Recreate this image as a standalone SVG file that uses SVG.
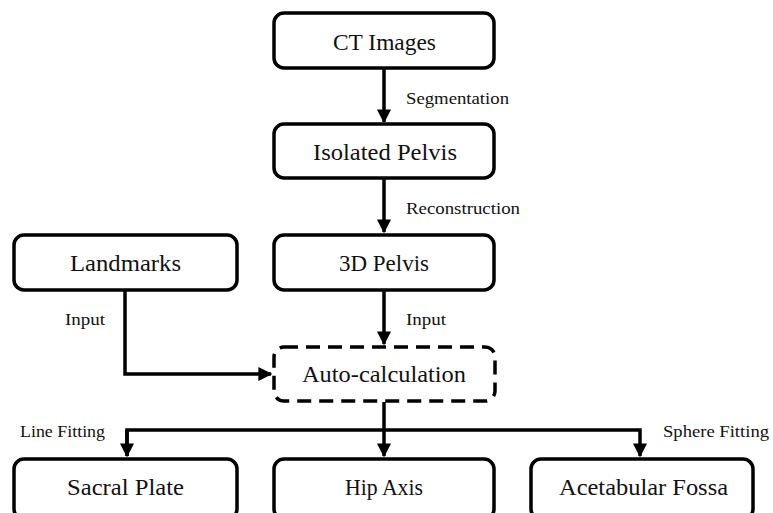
<svg xmlns="http://www.w3.org/2000/svg" width="773" height="513" viewBox="0 0 773 513">
<style>
.box{fill:#fff;stroke:#000;stroke-width:3.5}
.dash{fill:#fff;stroke:#000;stroke-width:3.5;stroke-dasharray:14,8}
.t{font-family:"Liberation Serif","DejaVu Serif",serif;font-size:23px;fill:#111}
.l{font-family:"Liberation Serif","DejaVu Serif",serif;font-size:16px;fill:#111}
.c{fill:none;stroke:#000;stroke-width:3.5}
</style>
<defs>
<marker id="ah" viewBox="0 0 10 10" refX="9" refY="5" markerWidth="4" markerHeight="4" orient="auto" markerUnits="strokeWidth">
<path d="M0,0 L10,5 L0,10 z" fill="#000"/>
</marker>
</defs>
<rect width="773" height="513" fill="#fff"/>
<g id="connectors">
<path class="c" d="M384,68 V122" marker-end="url(#ah)"/>
<path class="c" d="M384,178 V232" marker-end="url(#ah)"/>
<path class="c" d="M384,290 V344" marker-end="url(#ah)"/>
<path class="c" d="M125,290 V374 H271" marker-end="url(#ah)"/>
<path class="c" d="M384,402 V456" marker-end="url(#ah)"/>
<path class="c" d="M127,456 V430 H640 V456" marker-end="url(#ah)"/>
<path class="c" d="M127,430 V456" marker-end="url(#ah)"/>
<text class="l" x="406" y="104" textLength="103" lengthAdjust="spacingAndGlyphs">Segmentation</text>
<text class="l" x="406" y="214" textLength="114" lengthAdjust="spacingAndGlyphs">Reconstruction</text>
<text class="l" x="65" y="325" textLength="40" lengthAdjust="spacingAndGlyphs">Input</text>
<text class="l" x="406" y="325" textLength="40" lengthAdjust="spacingAndGlyphs">Input</text>
<text class="l" x="20" y="437" textLength="85" lengthAdjust="spacingAndGlyphs">Line Fitting</text>
<text class="l" x="663" y="437" textLength="106" lengthAdjust="spacingAndGlyphs">Sphere Fitting</text>
</g>
<g id="ct"><rect class="box" x="274" y="13" width="220" height="55" rx="10"/><text class="t" x="333" y="50" textLength="103" lengthAdjust="spacingAndGlyphs">CT Images</text></g>
<g id="isolated"><rect class="box" x="274" y="124" width="220" height="54" rx="10"/><text class="t" x="313" y="160" textLength="144" lengthAdjust="spacingAndGlyphs">Isolated Pelvis</text></g>
<g id="landmarks"><rect class="box" x="14" y="235" width="223" height="55" rx="10"/><text class="t" x="70" y="271" textLength="111" lengthAdjust="spacingAndGlyphs">Landmarks</text></g>
<g id="pelvis3d"><rect class="box" x="274" y="235" width="220" height="55" rx="10"/><text class="t" x="339" y="271" textLength="90" lengthAdjust="spacingAndGlyphs">3D Pelvis</text></g>
<g id="auto"><rect class="dash" x="274" y="347" width="221" height="54" rx="10"/><text class="t" x="302" y="382" textLength="164" lengthAdjust="spacingAndGlyphs">Auto-calculation</text></g>
<g id="sacral"><rect class="box" x="14" y="459" width="223" height="60" rx="10"/><text class="t" x="67" y="495" textLength="117" lengthAdjust="spacingAndGlyphs">Sacral Plate</text></g>
<g id="hip"><rect class="box" x="274" y="459" width="220" height="60" rx="10"/><text class="t" x="345" y="495" textLength="78" lengthAdjust="spacingAndGlyphs">Hip Axis</text></g>
<g id="acet"><rect class="box" x="531" y="459" width="222" height="60" rx="10"/><text class="t" x="559" y="495" textLength="169" lengthAdjust="spacingAndGlyphs">Acetabular Fossa</text></g>
</svg>
